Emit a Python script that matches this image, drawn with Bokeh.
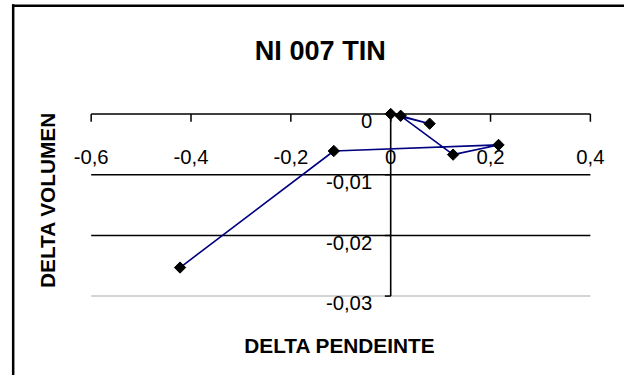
import math
from bokeh.plotting import figure
from bokeh.models import Range1d
from bokeh.embed import file_html
from bokeh.resources import INLINE
from bokeh.core.properties import value

# ---------------- data ----------------
title_text = "NI 007 TIN"
x_title = "DELTA PENDEINTE"
y_title = "DELTA VOLUMEN"

delta_pendiente = [0.0, 0.078, 0.020, 0.125, 0.216, -0.114, -0.422]
delta_volumen = [0.0, -0.0016, -0.0003, -0.0067, -0.0051, -0.0061, -0.0253]

x_ticks = [-0.6, -0.4, -0.2, 0.0, 0.2, 0.4]
x_tick_labels = ["-0,6", "-0,4", "-0,2", "0", "0,2", "0,4"]
y_ticks = [0.0, -0.01, -0.02, -0.03]
y_tick_labels = ["0", "-0,01", "-0,02", "-0,03"]
grid_values = [-0.01, -0.02]

# ---------------- layout ----------------
REF_W, REF_H = 640, 391          # design canvas
W, H = 624, 375                  # actual figure size (fits window with margins)
SX, SY = W / REF_W, H / REF_H
S = (SX + SY) / 2
X0_PX, Y0_PX = 400.2, 118.3      # design pixel of the data origin
KX, KY = 512.0, 6330.0           # design pixels per data unit


def dx(px):
    return (px - X0_PX) / KX


def dy(py):
    return (Y0_PX - py) / KY


def fs(px):
    return f"{px * S:.1f}px"


FONT = value("Liberation Sans")

p = figure(width=W, height=H, output_backend="svg", toolbar_location=None,
           x_range=Range1d(dx(0), dx(REF_W)),
           y_range=Range1d(dy(REF_H), dy(0)),
           x_axis_type=None, y_axis_type=None, min_border=0,
           outline_line_color=None, background_fill_color="white",
           border_fill_color="white")
p.grid.visible = False

# chart-area border (top and left visible)
p.segment(x0=[dx(13)], y0=[dy(4)], x1=[dx(13)], y1=[dy(REF_H + 5)],
          line_color="black", line_width=2.5)
p.segment(x0=[dx(12)], y0=[dy(5.5)], x1=[dx(REF_W + 5)], y1=[dy(5.5)],
          line_color="black", line_width=2.5)

xmin, xmax = x_ticks[0], x_ticks[-1]
ymin, ymax = y_ticks[-1], y_ticks[0]

# bottom light gridline
p.segment(x0=[xmin], y0=[ymin], x1=[xmax], y1=[ymin], line_color="#d4d4d4", line_width=2)
# major gridlines
p.segment(x0=[xmin] * len(grid_values), y0=grid_values, x1=[xmax] * len(grid_values),
          y1=grid_values, line_color="black", line_width=1.5)
# x axis crossing at y=0
p.segment(x0=[xmin], y0=[0], x1=[xmax], y1=[0], line_color="black", line_width=1.6)
# y axis crossing at x=0
p.segment(x0=[0], y0=[ymin], x1=[0], y1=[ymax], line_color="black", line_width=1.6)

# tick marks
p.ray(x=x_ticks, y=[0] * len(x_ticks), length=8 * SY, length_units="screen",
      angle=-math.pi / 2, line_color="black", line_width=1.5)
p.ray(x=[0] * len(y_ticks), y=y_ticks, length=6 * SX, length_units="screen",
      angle=math.pi, line_color="black", line_width=1.5)

# tick labels
p.text(x=x_ticks, y=[0] * len(x_ticks), text=x_tick_labels, y_offset=45 * SY,
       text_align="center", text_baseline="alphabetic", text_font=FONT,
       text_font_size=fs(21), text_color="black")
p.text(x=[0] * len(y_ticks), y=y_ticks, text=y_tick_labels, x_offset=-19 * SX,
       y_offset=7.5 * SY, text_align="right", text_baseline="alphabetic",
       text_font=FONT, text_font_size=fs(21), text_color="black")

# data series
p.line(delta_pendiente, delta_volumen, line_color="#000080", line_width=1.6)
p.scatter(delta_pendiente, delta_volumen, marker="square", angle=math.pi / 4,
          size=8, fill_color="black", line_color="black")

# titles
p.text(x=[dx(328)], y=[dy(51.7)], text=[title_text], text_align="center",
       text_baseline="alphabetic", text_font=FONT, text_font_size=fs(28),
       text_font_style="bold", text_color="black")
p.text(x=[dx(348)], y=[dy(360)], text=[x_title], text_align="center",
       text_baseline="alphabetic", text_font=FONT, text_font_size=fs(21.5),
       text_font_style="bold", text_color="black")
p.text(x=[dx(48.5)], y=[dy(208)], text=[y_title], text_align="center",
       text_baseline="middle", angle=math.pi / 2, text_font=FONT,
       text_font_size=fs(21.5), text_font_style="bold", text_color="black")

open("out.html", "w").write(file_html(p, INLINE))
